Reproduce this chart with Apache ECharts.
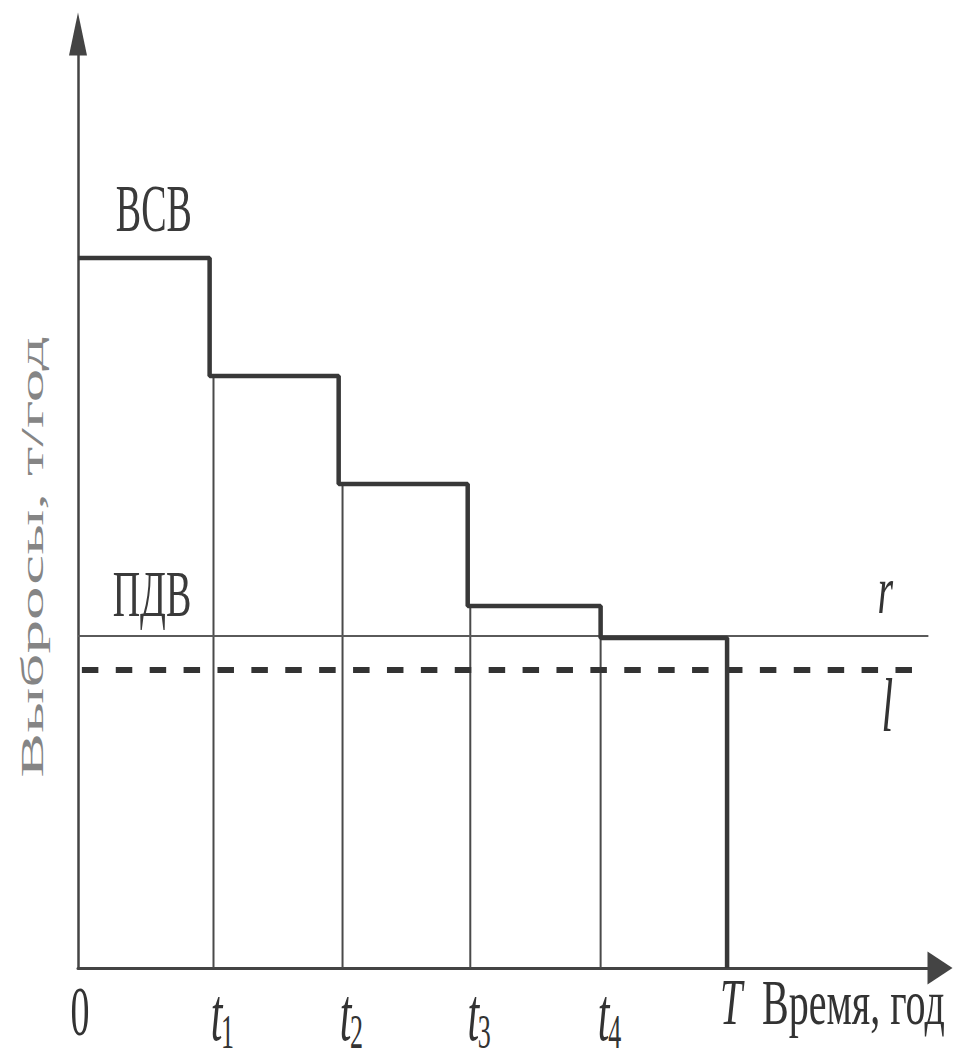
<!DOCTYPE html>
<html><head><meta charset="utf-8">
<script src="https://cdn.jsdelivr.net/npm/echarts@6/dist/echarts.min.js"></script>
<style>html,body{margin:0;padding:0;background:#fff}#c{width:957px;height:1061px}</style>
</head><body><div id="c"></div>
<script>
// ---- data ----
const stepTimes = [0, 1.02, 2.02, 3.02, 4.05, 5.03];      // moments of emission reduction
const stepEmissions = [71.0, 59.2, 48.4, 36.2, 33.0, 0];   // ВСВ steps, т/год
const periodTimes = [1.05, 2.05, 3.04, 4.05];              // thin verticals t1..t4
const tickTimes = [0, 1.05, 2.05, 3.04, 4.05, 5.03];
const tickMain = ['0', 't', 't', 't', 't', 'T'];
const tickSub = ['', '1', '2', '3', '4', ''];
const pdvLevel = 33.2;          // line r (ПДВ)
const pdvSpan = [0, 6.59];
const lLevel = 29.8;            // dashed line l
const lSpan = [0.03, 6.465];
const timeMax = 6.68;
const emissionMax = 93.4;

const serif = '"Liberation Serif", "DejaVu Serif", serif';
const chart = echarts.init(document.getElementById('c'), null, {renderer: 'svg'});

const series = [];
series.push({
  type: 'line', step: 'end', symbol: 'none', clip: false, z: 5,
  data: stepTimes.map((t, i) => [t, stepEmissions[i]]),
  lineStyle: {color: '#383838', width: 4.5}
});
periodTimes.forEach((t, i) => {
  series.push({
    type: 'line', symbol: 'none', clip: false, z: 3,
    data: [[t, stepEmissions[i + 1]], [t, 0]],
    lineStyle: {color: '#4a4a4a', width: 2}
  });
});
series.push({
  type: 'line', symbol: 'none', clip: false, z: 4,
  data: [[pdvSpan[0], pdvLevel], [pdvSpan[1], pdvLevel]],
  lineStyle: {color: '#5a5a5a', width: 2}
});
series.push({
  type: 'line', symbol: 'none', clip: false, z: 4,
  data: [[lSpan[0], lLevel], [lSpan[1], lLevel]],
  lineStyle: {color: '#333', width: 6, type: [16.5, 17.4]}
});

chart.setOption({
  backgroundColor: '#fff',
  animation: false,
  grid: {left: 78, right: 17, top: 34, bottom: 93},
  xAxis: {
    type: 'value', min: 0, max: timeMax,
    axisLine: {show: true, symbol: ['none', 'triangle'], symbolSize: [33, 25],
      lineStyle: {color: '#444', width: 3}},
    axisTick: {show: false}, axisLabel: {show: false}, splitLine: {show: false}
  },
  yAxis: {
    type: 'value', min: 0, max: emissionMax,
    axisLine: {show: true, symbol: ['none', 'triangle'], symbolSize: [18, 43],
      lineStyle: {color: '#444', width: 2.5}},
    axisTick: {show: false}, axisLabel: {show: false}, splitLine: {show: false}
  },
  series: series
});

function px(x, y) { return chart.convertToPixel({gridIndex: 0}, [x, y]); }
function txt(text, x, y, font, sx, sy, opts) {
  opts = opts || {};
  return {
    type: 'text', x: x, y: y, scaleX: sx, scaleY: sy, rotation: opts.rotation || 0, z: 10,
    style: {
      text: text, font: font, fill: opts.fill || '#333',
      align: opts.align || 'center', verticalAlign: 'middle',
      textAlign: opts.align || 'center', textVerticalAlign: 'middle'
    }
  };
}

const g = [];
const p0 = px(stepTimes[0], stepEmissions[0]);
const p1 = px(stepTimes[1], stepEmissions[0]);
g.push(txt('ВСВ', (p0[0] + p1[0]) / 2 + 10, p0[1] - 50, '38px ' + serif, 1, 1.8, {fill: '#3a3a3a'}));
const rStart = px(pdvSpan[0], pdvLevel), rEnd = px(pdvSpan[1], pdvLevel);
g.push(txt('ПДВ', rStart[0] + 74, rStart[1] - 42, '38px ' + serif, 1, 1.75, {fill: '#3a3a3a'}));
g.push(txt('r', rEnd[0] - 43, rEnd[1] - 46, 'italic 40px ' + serif, 1, 1.7));
const lEnd = px(lSpan[1], lLevel);
g.push(txt('l', lEnd[0] - 25, lEnd[1] + 36, 'italic 42px ' + serif, 1, 1.8));

// tick labels on the time axis
tickTimes.forEach((t, i) => {
  const p = px(t, 0);
  if (tickMain[i] === '0') {
    g.push(txt('0', p[0] + 2, p[1] + 43, '38px ' + serif, 1, 1.85));
  } else if (tickMain[i] === 'T') {
    g.push(txt('T', p[0] + 4, p[1] + 34, 'italic 40px ' + serif, 1, 1.65));
  } else {
    g.push(txt(tickMain[i], p[0] + 3, p[1] + 47, 'italic 42px ' + serif, 1, 1.8));
    g.push(txt(tickSub[i], p[0] + 14, p[1] + 64, '26px ' + serif, 1, 1.9));
  }
});
const pT = px(tickTimes[tickTimes.length - 1], 0);
g.push(txt('Время, год', pT[0] + 35, pT[1] + 34, '40px ' + serif, 1, 1.6, {align: 'left'}));
// vertical axis name
g.push(txt('Выбросы, т/год', 32, 557, '32px ' + serif, 2.1, 1, {rotation: Math.PI / 2, fill: '#858585'}));

chart.setOption({graphic: {elements: g}});
</script>
</body></html>
